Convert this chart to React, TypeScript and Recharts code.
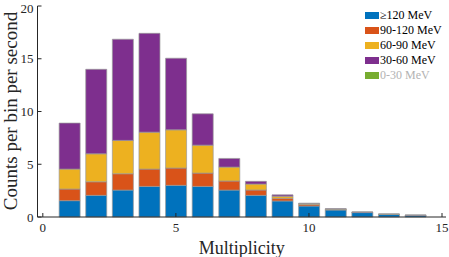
import React from 'react';
import { BarChart, Bar, XAxis, YAxis } from 'recharts';

// multiplicity bins
const multiplicity = [1, 2, 3, 4, 5, 6, 7, 8, 9, 10, 11, 12, 13, 14];

// counts per bin per second, by energy band
const above120 = [1.55, 2.05, 2.55, 2.9, 3.0, 2.9, 2.55, 2.05, 1.52, 1.04, 0.66, 0.42, 0.26, 0.16];
const band90to120 = [1.1, 1.29, 1.55, 1.64, 1.64, 1.26, 0.86, 0.51, 0.25, 0.14, 0.06, 0.03, 0.01, 0.01];
const band60to90 = [1.89, 2.65, 3.16, 3.5, 3.62, 2.65, 1.32, 0.56, 0.2, 0.1, 0.04, 0.01, 0.01, 0.0];
const band30to60 = [4.36, 8.01, 9.59, 9.37, 6.79, 2.97, 0.82, 0.26, 0.13, 0.03, 0.02, 0.01, 0.0, 0.01];
const band0to30 = [0, 0, 0, 0, 0, 0, 0, 0, 0, 0, 0, 0, 0, 0];

const xTicks = [0, 5, 10, 15];
const yTicks = [0, 5, 10, 15, 20];

const series = [
  { key: 'ge120', name: '≥120 MeV', color: '#0072BD', values: above120 },
  { key: 'b90', name: '90-120 MeV', color: '#D95319', values: band90to120 },
  { key: 'b60', name: '60-90 MeV', color: '#EDB120', values: band60to90 },
  { key: 'b30', name: '30-60 MeV', color: '#7E2F8E', values: band30to60 },
  { key: 'b0', name: '0-30 MeV', color: '#77AC30', values: band0to30 },
];

const data = multiplicity.map((m, i) => {
  const row: Record<string, number> = { m };
  series.forEach((s) => {
    row[s.key] = s.values[i];
  });
  return row;
});

const FONT = '"Liberation Serif", "Times New Roman", serif';
const AXIS = '#262626';

const LegendBox = () => (
  <div
    style={{
      position: 'absolute',
      left: 365,
      top: 8,
      fontFamily: FONT,
      fontSize: 12,
      lineHeight: '15px',
    }}
  >
    {series.map((s, i) => (
      <div key={s.key} style={{ display: 'flex', alignItems: 'center', height: 15 }}>
        <span
          style={{
            display: 'inline-block',
            width: 14,
            height: 7,
            background: s.color,
            marginRight: 1,
          }}
        />
        <span style={{ color: i === series.length - 1 ? '#b3b3b3' : '#000', whiteSpace: 'nowrap' }}>
          {s.name}
        </span>
      </div>
    ))}
  </div>
);

export default function App() {
  return (
    <div style={{ position: 'absolute', left: 0, top: 0, width: 449, height: 257, background: '#fff' }}>
      <BarChart
        width={449}
        height={257}
        data={data}
        margin={{ top: 6, right: 3, bottom: 0, left: 0 }}
        barGap={0}
      >
        <XAxis
          xAxisId="bottom"
          dataKey="m"
          type="number"
          domain={[-0.2, 15.15]}
          ticks={xTicks}
          allowDataOverflow
          height={40}
          tickSize={-4}
          tickMargin={10}
          stroke={AXIS}
          tick={{ fill: AXIS, fontSize: 13, fontFamily: FONT }}
          label={{
            value: 'Multiplicity',
            position: 'insideBottom',
            offset: 3,
            fill: AXIS,
            fontSize: 18,
            fontFamily: FONT,
          }}
        />
        <XAxis
          xAxisId="top"
          orientation="top"
          dataKey="m"
          type="number"
          domain={[-0.2, 15.15]}
          ticks={xTicks}
          allowDataOverflow
          height={0}
          tickSize={-4}
          tick={false}
          stroke={AXIS}
        />
        <YAxis
          yAxisId="left"
          type="number"
          domain={[0, 20]}
          ticks={yTicks}
          width={37.5}
          tickSize={-4}
          tickMargin={8}
          stroke={AXIS}
          tick={{ fill: AXIS, fontSize: 13, fontFamily: FONT }}
          label={{
            content: () => (
              <text
                x={10}
                y={111}
                transform="rotate(-90 10 111)"
                textAnchor="middle"
                dominantBaseline="central"
                fill={AXIS}
                fontSize={19}
                fontFamily={FONT}
              >
                Counts per bin per second
              </text>
            ),
          }}
        />
        <YAxis
          yAxisId="right"
          orientation="right"
          type="number"
          domain={[0, 20]}
          ticks={yTicks}
          width={0}
          tickSize={-4}
          tick={false}
          stroke={AXIS}
        />
        {series.map((s) => (
          <Bar
            key={s.key}
            dataKey={s.key}
            name={s.name}
            stackId="a"
            xAxisId="bottom"
            yAxisId="left"
            fill={s.color}
            stroke="#9a9a9a"
            strokeWidth={0.7}
            barSize={21}
            isAnimationActive={false}
          />
        ))}
      </BarChart>
      <LegendBox />
    </div>
  );
}
